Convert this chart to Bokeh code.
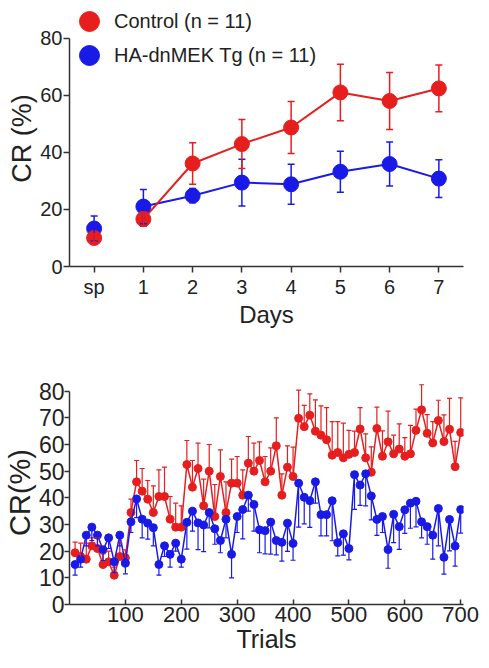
from bokeh.plotting import figure
from bokeh.models import (ColumnDataSource, Whisker, TeeHead, Legend, LegendItem,
                          FixedTicker, Range1d)
from bokeh.layouts import column
from bokeh.embed import file_html
from bokeh.resources import INLINE

# ---------------- data: top panel (days) ----------------
day_labels = ["sp", "1", "2", "3", "4", "5", "6", "7"]
day_pos = [0, 1, 2, 3, 4, 5, 6, 7]
ctrl_mean = [10.0, 16.6, 36.1, 42.9, 48.7, 61.0, 58.0, 62.4]
ctrl_err = [1.5, 2.5, 7.3, 8.6, 9.1, 9.9, 10.0, 8.2]
tg_mean = [13.3, 21.0, 24.8, 29.4, 28.8, 33.2, 35.9, 30.8]
tg_err = [4.4, 6.0, 2.5, 8.2, 7.0, 7.2, 7.7, 6.6]

# ---------------- data: bottom panel (trials) ----------------
trials = list(range(10, 701, 10))
ctrl_trial = [19.4, 18, 17, 22, 21, 15, 16, 11, 18, 17.5,
              34.5, 46, 42.5, 39.5, 34.5, 40.5, 40.5, 32, 29, 29,
              52.5, 44, 51, 37, 50, 33, 48, 34.5, 45.5, 45.5,
              41, 53, 50, 54, 46, 50, 59.5, 41, 51.5, 48,
              69.8, 66.7, 71, 65, 63.5, 61.8, 56, 57, 55, 56.3,
              57, 65.8, 55, 49.6, 66, 55.6, 61, 56.5, 58.3, 55.6,
              56.5, 65.3, 73, 64.2, 60.6, 69, 61.1, 65.7, 51.7, 64.5]
ctrl_trial_err = [4, 5, 6, 3, 4, 4, 4, 3, 5, 3,
                  5, 8, 8.5, 7, 10, 10, 11, 8.5, 9, 8,
                  9, 10, 9.5, 10, 10, 12, 10, 11.5, 9, 10,
                  9.5, 10, 10.5, 7, 9.5, 8.7, 10.5, 8, 8, 11,
                  10.6, 8, 8, 11.7, 11, 12, 12.6, 11.6, 13, 9,
                  8, 8, 9, 9.5, 8, 9.5, 11.5, 7, 9.4, 7,
                  10.7, 8, 9.4, 7, 8, 7.6, 10, 11.6, 9.5, 13]
tg_trial = [15, 17, 26, 29, 26, 20.5, 25, 16, 26, 15.5,
            31, 39.6, 32, 30.5, 28.8, 15, 22, 18.8, 23, 17,
            30.8, 35, 30.6, 29.8, 34.5, 28.4, 24, 32, 18.8, 33,
            35.6, 41, 37.5, 28, 27.7, 30.9, 24, 23.3, 30.5, 22.9,
            45.5, 40.2, 38.9, 46, 33.7, 33.7, 38.9, 23.2, 26.5, 21,
            48.7, 44.8, 49, 40.7, 31.9, 33, 20.6, 33.8, 29.2, 35.5,
            38, 38.7, 31, 29.2, 26, 36, 17.7, 31.9, 21.9, 35.6]
tg_trial_err = [4, 3, 4, 5, 4, 4, 4, 4, 4, 4,
                4, 7, 7, 6, 6.8, 4, 4, 4.8, 3, 3,
                10, 7.5, 10, 10, 5.8, 5.8, 4.6, 7, 8.8, 6,
                11, 6, 10, 8.6, 8.7, 12, 5.4, 7, 10.6, 6.3,
                16.5, 10, 10, 8, 8, 8, 15, 5, 8, 4.3,
                13, 7.6, 12, 9, 6, 6, 7, 10.6, 8.5, 8.8,
                9.4, 9.6, 6, 6.6, 9, 14, 6.3, 11.8, 7.5, 8.8]

RED = "#e61e1e"
BLUE = "#1a1ae6"
FONT = "Liberation Sans"
AXC = "#333333"
TXT = "#222222"


def style(p, tick_size, label_size_x, label_size_y):
    p.xgrid.visible = False
    p.ygrid.visible = False
    p.outline_line_color = None
    for ax in (p.xaxis[0], p.yaxis[0]):
        ax.axis_line_color = AXC
        ax.axis_line_width = 1.5
        ax.major_tick_line_color = AXC
        ax.major_tick_line_width = 1.5
        ax.minor_tick_line_color = None
        ax.major_label_text_font = FONT
        ax.major_label_text_font_size = tick_size
        ax.major_label_text_color = TXT
        ax.axis_label_text_font = FONT
        ax.axis_label_text_font_style = "normal"
        ax.axis_label_text_color = TXT
        ax.axis_label_standoff = 0
    p.xaxis.axis_label_text_font_size = label_size_x
    p.yaxis.axis_label_text_font_size = label_size_y


# ---------------- top figure ----------------
p1 = figure(width=481, height=330, x_range=Range1d(-0.5, 7.5), y_range=Range1d(0, 89.7),
            output_backend="svg", toolbar_location=None,
            min_border_left=69, min_border_right=18, min_border_top=10, min_border_bottom=64)
style(p1, "20px", "24px", "27px")
p1.xaxis.ticker = FixedTicker(ticks=day_pos)
p1.xaxis.major_label_overrides = {pos: lab for pos, lab in zip(day_pos, day_labels)}
p1.xaxis.axis_label = "Days"
p1.xaxis.major_tick_out = 6
p1.xaxis.major_tick_in = 0
p1.xaxis.major_label_standoff = 3
p1.yaxis.ticker = FixedTicker(ticks=[0, 20, 40, 60, 80])
p1.yaxis.bounds = (0, 80)
p1.yaxis.axis_label = "CR (%)"
p1.yaxis.major_tick_out = 6
p1.yaxis.major_tick_in = 0
p1.yaxis.major_label_standoff = 1

for mean, err, col in ((tg_mean, tg_err, BLUE), (ctrl_mean, ctrl_err, RED)):
    src = ColumnDataSource(dict(x=day_pos, y=mean,
                                lo=[m - e for m, e in zip(mean, err)],
                                hi=[m + e for m, e in zip(mean, err)]))
    w = Whisker(base="x", lower="lo", upper="hi", source=src, dimension="height",
                line_color=col, line_width=1.5, level="glyph",
                upper_head=TeeHead(size=7, line_color=col, line_width=1.5),
                lower_head=TeeHead(size=7, line_color=col, line_width=1.5))
    p1.add_layout(w)
    p1.line(day_pos[1:], mean[1:], line_color=col, line_width=2)

r_tg = p1.scatter(day_pos, tg_mean, size=15, color=BLUE)
r_ct = p1.scatter(day_pos, ctrl_mean, size=15, color=RED)

for r, lab, y in ((r_ct, "Control (n = 11)", 220), (r_tg, "HA-dnMEK Tg (n = 11)", 186)):
    leg = Legend(items=[LegendItem(label=lab, renderers=[r])], location=(-5, y),
                 glyph_width=50, glyph_height=50, label_standoff=-12,
                 padding=0, margin=0, border_line_color=None, background_fill_alpha=0,
                 label_text_font=FONT, label_text_font_size="20px", label_text_color=TXT)
    p1.add_layout(leg)

# ---------------- bottom figure ----------------
p2 = figure(width=481, height=330, x_range=Range1d(0, 705), y_range=Range1d(0, 84),
            output_backend="svg", toolbar_location=None,
            min_border_left=69, min_border_right=12, min_border_top=50, min_border_bottom=56)
style(p2, "23px", "25px", "29px")
p2.xaxis.major_label_text_font_size = "22px"
p2.xaxis.ticker = FixedTicker(ticks=[100, 200, 300, 400, 500, 600, 700])
p2.xaxis.axis_label = "Trials"
p2.xaxis.major_tick_out = 0
p2.xaxis.major_tick_in = 5
p2.xaxis.major_label_standoff = 2
p2.yaxis.ticker = FixedTicker(ticks=[0, 10, 20, 30, 40, 50, 60, 70, 80])
p2.yaxis.bounds = (0, 80)
p2.yaxis.axis_label = "CR(%)"
p2.yaxis.major_tick_out = 5
p2.yaxis.major_tick_in = 0
p2.yaxis.major_label_standoff = 0

for mean, err, col, up in ((ctrl_trial, ctrl_trial_err, RED, True),
                           (tg_trial, tg_trial_err, BLUE, False)):
    if up:
        lo = list(mean)
        hi = [m + e for m, e in zip(mean, err)]
    else:
        lo = [m - e for m, e in zip(mean, err)]
        hi = list(mean)
    src = ColumnDataSource(dict(x=trials, y=mean, lo=lo, hi=hi))
    w = Whisker(base="x", lower="lo", upper="hi", source=src, dimension="height",
                line_color=col, line_width=1.2, level="glyph",
                upper_head=TeeHead(size=5, line_color=col, line_width=1.2) if up else None,
                lower_head=None if up else TeeHead(size=5, line_color=col, line_width=1.2))
    p2.add_layout(w)
    p2.line(trials, mean, line_color=col, line_width=1.5)
    p2.scatter(trials, mean, size=8, color=col)

layout = column(p1, p2, spacing=0)
open("out.html", "w").write(file_html(layout, INLINE))
